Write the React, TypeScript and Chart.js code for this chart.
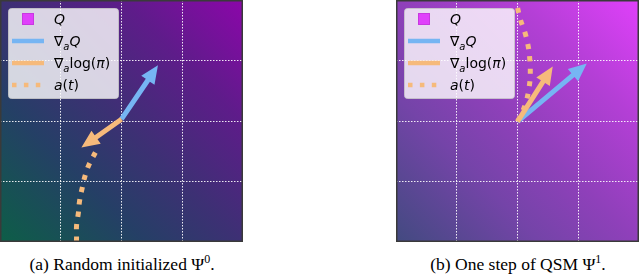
import React, { useEffect, useRef } from 'react';
import { Chart, registerables } from 'chart.js';

Chart.register(...registerables);

// ---------- data ----------
const axisMin = -2;
const axisMax = 2;
const gridStep = 1;

// legend labels as math segments: r = roman, i = italic, sub = italic subscript
const legendLabels = [
  [{ t: 'Q', s: 'i' }],
  [{ t: '∇', s: 'r' }, { t: 'a', s: 'sub' }, { t: 'Q', s: 'i' }],
  [{ t: '∇', s: 'r' }, { t: 'a', s: 'sub' }, { t: 'log(', s: 'r' }, { t: 'π', s: 'i' }, { t: ')', s: 'r' }],
  [{ t: 'a', s: 'i' }, { t: '(', s: 'r' }, { t: 't', s: 'i' }, { t: ')', s: 'r' }],
];

// panel (a)
const aGradQ = [{ x: 0, y: 0.03 }, { x: 0.6, y: 0.92 }];
const aGradLogPi = [{ x: 0, y: 0.03 }, { x: -0.66, y: -0.44 }];
const aPath = [
  { x: -0.75, y: -2.2 },
  { x: -0.74, y: -1.93 },
  { x: -0.74, y: -1.73 },
  { x: -0.71, y: -1.52 },
  { x: -0.69, y: -1.32 },
  { x: -0.645, y: -1.1 },
  { x: -0.595, y: -0.89 },
  { x: -0.53, y: -0.71 },
  { x: -0.43, y: -0.52 },
];

// panel (b)
const bGradQ = [{ x: 0.0, y: -0.01 }, { x: 1.14, y: 0.95 }];
const bGradLogPi = [{ x: 0.0, y: -0.01 }, { x: 0.58, y: 0.9 }];
const bPath = [
  { x: 0.0, y: -0.01 },
  { x: 0.08, y: 0.15 },
  { x: 0.15, y: 0.35 },
  { x: 0.19, y: 0.55 },
  { x: 0.21, y: 0.75 },
  { x: 0.2, y: 1.05 },
  { x: 0.17, y: 1.27 },
  { x: 0.12, y: 1.47 },
  { x: 0.05, y: 1.67 },
  { x: 0.0, y: 1.88 },
  { x: -0.04, y: 2.1 },
];

const captionTexts = ['(a) Random initialized Ψ', '(b) One step of QSM Ψ'];
const captionSups = ['0', '1'];

// ---------- styles ----------
const BLUE = '#76b5f3';
const ORANGE = '#f6ba7b';
const MAGENTA = '#e040fb';
const FONT = '"DejaVu Sans"';

const panelStyles = [
  {
    left: 0,
    stops: [
      [0, '#0d5e47'],
      [0.3, '#253f66'],
      [0.5, '#3d3074'],
      [0.75, '#5e1c8a'],
      [1, '#8c06aa'],
    ],
  },
  {
    left: 396,
    stops: [
      [0, '#424a80'],
      [0.3, '#7444a8'],
      [0.5, '#8f40ba'],
      [0.75, '#b43fd6'],
      [1, '#e040fa'],
    ],
  },
];

const panels = [
  { gradQ: aGradQ, gradLogPi: aGradLogPi, path: aPath },
  { gradQ: bGradQ, gradLogPi: bGradLogPi, path: bPath },
];

function drawArrow(ctx: CanvasRenderingContext2D, x0: number, y0: number, x1: number, y1: number, color: string) {
  const shaftW = 5;
  const headL = 18;
  const headW = 16;
  const dx = x1 - x0;
  const dy = y1 - y0;
  const len = Math.hypot(dx, dy);
  const ux = dx / len;
  const uy = dy / len;
  const px = -uy;
  const py = ux;
  const bx = x1 - ux * headL;
  const by = y1 - uy * headL;
  ctx.save();
  ctx.fillStyle = color;
  ctx.beginPath();
  ctx.moveTo(x0 + px * shaftW / 2, y0 + py * shaftW / 2);
  ctx.lineTo(bx + px * shaftW / 2, by + py * shaftW / 2);
  ctx.lineTo(bx + px * headW / 2, by + py * headW / 2);
  ctx.lineTo(x1, y1);
  ctx.lineTo(bx - px * headW / 2, by - py * headW / 2);
  ctx.lineTo(bx - px * shaftW / 2, by - py * shaftW / 2);
  ctx.lineTo(x0 - px * shaftW / 2, y0 - py * shaftW / 2);
  ctx.closePath();
  ctx.fill();
  ctx.restore();
}

function drawMath(ctx: CanvasRenderingContext2D, segs: { t: string; s: string }[], x: number, baseline: number) {
  let cx = x;
  for (const seg of segs) {
    if (seg.s === 'sub') {
      ctx.font = `italic 10px ${FONT}`;
      ctx.fillText(seg.t, cx, baseline + 3.5);
    } else {
      ctx.font = `${seg.s === 'i' ? 'italic ' : ''}14px ${FONT}`;
      ctx.fillText(seg.t, cx, baseline);
    }
    cx += ctx.measureText(seg.t).width;
  }
}

function makeConfig(idx: number): any {
  const panel = panels[idx];
  const style = panelStyles[idx];

  const gradientPlugin = {
    id: 'bgGradient',
    beforeDraw(chart: any) {
      const { ctx, chartArea, scales } = chart;
      const xs = scales.x;
      const ys = scales.y;
      const g = ctx.createLinearGradient(
        xs.getPixelForValue(axisMin), ys.getPixelForValue(axisMin),
        xs.getPixelForValue(axisMax), ys.getPixelForValue(axisMax)
      );
      for (const [o, c] of style.stops) g.addColorStop(o as number, c as string);
      ctx.save();
      ctx.fillStyle = g;
      ctx.fillRect(chartArea.left, chartArea.top, chartArea.right - chartArea.left, chartArea.bottom - chartArea.top);
      ctx.restore();
    },
  };

  const arrowPlugin = {
    id: 'arrows',
    afterDatasetsDraw(chart: any) {
      const { ctx, chartArea } = chart;
      ctx.save();
      ctx.beginPath();
      ctx.rect(chartArea.left, chartArea.top, chartArea.right - chartArea.left, chartArea.bottom - chartArea.top);
      ctx.clip();
      const order = [
        { i: 1, c: BLUE },
        { i: 0, c: ORANGE },
      ];
      for (const o of order) {
        const pts = chart.getDatasetMeta(o.i).data;
        drawArrow(ctx, pts[0].x, pts[0].y, pts[1].x, pts[1].y, o.c);
      }
      ctx.restore();
      // frame
      ctx.save();
      ctx.strokeStyle = '#3a3a3a';
      ctx.lineWidth = 1.5;
      ctx.strokeRect(chartArea.left + 0.75, chartArea.top + 0.75, chartArea.right - chartArea.left - 1.5, chartArea.bottom - chartArea.top - 1.5);
      ctx.restore();
    },
  };

  const legendPlugin = {
    id: 'mathLegend',
    afterDraw(chart: any) {
      const { ctx, chartArea } = chart;
      const L = chartArea.left;
      const T = chartArea.top;
      ctx.save();
      // box
      const bx = L + 8.5, by = T + 8.5, bw = 110, bh = 90, r = 3;
      ctx.beginPath();
      ctx.moveTo(bx + r, by);
      ctx.lineTo(bx + bw - r, by);
      ctx.arcTo(bx + bw, by, bx + bw, by + r, r);
      ctx.lineTo(bx + bw, by + bh - r);
      ctx.arcTo(bx + bw, by + bh, bx + bw - r, by + bh, r);
      ctx.lineTo(bx + r, by + bh);
      ctx.arcTo(bx, by + bh, bx, by + bh - r, r);
      ctx.lineTo(bx, by + r);
      ctx.arcTo(bx, by, bx + r, by, r);
      ctx.closePath();
      ctx.fillStyle = 'rgba(255,255,255,0.8)';
      ctx.fill();
      ctx.strokeStyle = 'rgba(204,204,204,0.8)';
      ctx.lineWidth = 1;
      ctx.stroke();

      const rows = [19, 41, 63, 85];
      const hx0 = L + 12, hx1 = L + 44;
      // Q square
      ctx.fillStyle = MAGENTA;
      ctx.fillRect(L + 22, T + rows[0] - 6, 12, 12);
      ctx.strokeStyle = '#c838e0';
      ctx.lineWidth = 1;
      ctx.strokeRect(L + 22.5, T + rows[0] - 5.5, 11, 11);
      // blue line
      ctx.strokeStyle = BLUE;
      ctx.lineWidth = 4.5;
      ctx.beginPath();
      ctx.moveTo(hx0, T + rows[1]);
      ctx.lineTo(hx1, T + rows[1]);
      ctx.stroke();
      // orange line
      ctx.strokeStyle = ORANGE;
      ctx.beginPath();
      ctx.moveTo(hx0, T + rows[2]);
      ctx.lineTo(hx1, T + rows[2]);
      ctx.stroke();
      // dotted
      ctx.setLineDash([4.5, 7.4]);
      ctx.lineCap = 'butt';
      ctx.beginPath();
      ctx.moveTo(hx0, T + rows[3]);
      ctx.lineTo(hx1, T + rows[3]);
      ctx.stroke();
      ctx.setLineDash([]);

      ctx.fillStyle = '#000';
      ctx.textBaseline = 'alphabetic';
      legendLabels.forEach((segs, k) => {
        drawMath(ctx, segs, L + 54, T + rows[k] + 5);
      });
      ctx.restore();
    },
  };

  const gridOpts = {
    color: (c: any) => {
      const v = c.tick ? c.tick.value : null;
      return v === axisMin || v === axisMax ? 'rgba(0,0,0,0)' : 'rgba(255,255,255,0.9)';
    },
    lineWidth: 1,
    drawTicks: false,
  };

  return {
    type: 'scatter',
    data: {
      datasets: [
        { label: 'gradLogPi', data: panel.gradLogPi, showLine: false, pointRadius: 0 },
        { label: 'gradQ', data: panel.gradQ, showLine: false, pointRadius: 0 },
        {
          label: 'a(t)',
          data: panel.path,
          showLine: true,
          borderColor: ORANGE,
          borderWidth: 5,
          borderDash: [5, 7.5],
          borderCapStyle: 'butt',
          tension: 0.4,
          pointRadius: 0,
          fill: false,
        },
      ],
    },
    options: {
      animation: false,
      responsive: false,
      maintainAspectRatio: false,
      events: [],
      layout: { padding: 0 },
      plugins: { legend: { display: false }, tooltip: { enabled: false } },
      scales: {
        x: {
          type: 'linear',
          min: axisMin,
          max: axisMax,
          ticks: { display: false, stepSize: gridStep },
          grid: gridOpts,
          border: { display: false, dash: [1.5, 1.5] },
        },
        y: {
          type: 'linear',
          min: axisMin,
          max: axisMax,
          ticks: { display: false, stepSize: gridStep },
          grid: gridOpts,
          border: { display: false, dash: [1.5, 1.5] },
        },
      },
    },
    plugins: [gradientPlugin, arrowPlugin, legendPlugin],
  };
}

function Panel({ idx }: { idx: number }) {
  const ref = useRef<HTMLCanvasElement | null>(null);
  useEffect(() => {
    if (!ref.current) return;
    const chart = new Chart(ref.current, makeConfig(idx));
    return () => chart.destroy();
  }, [idx]);
  return (
    <canvas
      ref={ref}
      width={243}
      height={242}
      style={{ position: 'absolute', left: panelStyles[idx].left, top: 0, width: 243, height: 242, display: 'block' }}
    />
  );
}

export default function App() {
  useEffect(() => {
    document.body.style.margin = '0';
  }, []);
  const centers = [122, 518];
  return (
    <div style={{ position: 'relative', width: 640, height: 278, background: '#fff', overflow: 'hidden' }}>
      <Panel idx={0} />
      <Panel idx={1} />
      {captionTexts.map((t, i) => (
        <div
          key={i}
          style={{
            position: 'absolute',
            left: centers[i] - 150,
            width: 300,
            top: 256,
            textAlign: 'center',
            fontFamily: '"Liberation Serif", "Times New Roman", serif',
            fontSize: 17.5,
            lineHeight: '17.5px',
            color: '#000',
            whiteSpace: 'nowrap',
          }}
        >
          {t}
          <sup style={{ fontSize: 12, verticalAlign: 0, position: 'relative', top: -7 }}>{captionSups[i]}</sup>.
        </div>
      ))}
    </div>
  );
}
